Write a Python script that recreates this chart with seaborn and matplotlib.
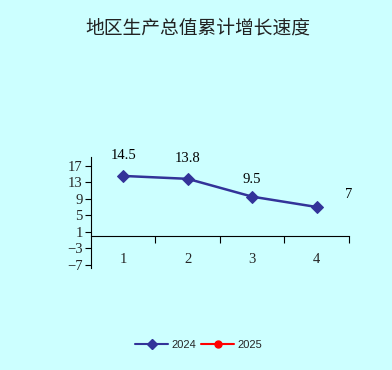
import pandas as pd
import matplotlib.pyplot as plt
import seaborn as sns
from matplotlib.lines import Line2D

quarters = [1, 2, 3, 4]
growth_2024 = [14.5, 13.8, 9.5, 7]
growth_2025 = []
y_ticks = [17, 13, 9, 5, 1, -3, -7]

BG = "#CCFFFF"
BLUE = "#333399"

sns.set_theme(style="white")
plt.rcParams["font.family"] = ["Liberation Serif", "Noto Sans CJK SC"]

df = pd.DataFrame({"quarter": quarters, "growth": growth_2024})

fig = plt.figure(figsize=(3.92, 3.70), dpi=100, facecolor=BG)
ax = fig.add_axes([0.232, 0.276, 0.658, 0.300])
ax.set_facecolor(BG)

sns.lineplot(
    data=df,
    x="quarter",
    y="growth",
    color=BLUE,
    marker="D",
    markersize=6,
    markeredgecolor=BLUE,
    linewidth=1.8,
    ax=ax
)

# data labels (Excel style, above points)
offsets = [(0, 10), (0, 10), (0, 8), (23, 4)]
for x, y, off in zip(quarters, growth_2024, offsets):
    ax.annotate(
        f"{y:g}",
        (x, y),
        xytext=off,
        textcoords="offset points",
        ha="center",
        va="bottom",
        fontsize=10.5,
        color="black"
    )

ax.set_xlim(0.5, 4.5)
ax.set_ylim(-7.7, 19.1)

for side in ["top", "right"]:
    ax.spines[side].set_visible(False)
ax.spines["bottom"].set_position(("data", 0))
ax.spines["left"].set_color("black")
ax.spines["bottom"].set_color("black")
ax.spines["left"].set_linewidth(0.8)
ax.spines["bottom"].set_linewidth(0.8)

ax.set_yticks(y_ticks)
ax.set_yticklabels([str(t).replace("-", "\u2212") for t in y_ticks], fontsize=10.5)
ax.set_xticks(quarters)
ax.set_xticklabels([str(q) for q in quarters], fontsize=10.5)
ax.set_xticks([1.5, 2.5, 3.5, 4.5], minor=True)
ax.tick_params(axis="x", which="major", length=0, pad=12)
ax.tick_params(axis="x", which="minor", length=5, width=0.8, direction="out", color="black", bottom=True)
ax.tick_params(axis="y", length=4, width=0.8, direction="out", color="black", left=True, pad=2)
ax.set_xlabel("")
ax.set_ylabel("")

fig.text(0.505, 0.924, "地区生产总值累计增长速度", ha="center", va="center",
         fontsize=13.5, family=["Noto Sans CJK SC"], color="#222222")

handles = [
    Line2D([], [], color=BLUE, marker="D", markersize=5, linewidth=1.5),
    Line2D([], [], color="red", marker="o", markersize=5, linewidth=1.5),
]
fig.legend(
    handles,
    ["2024", "2025"],
    loc="center",
    bbox_to_anchor=(0.507, 0.068),
    ncol=2,
    frameon=False,
    prop={"family": "Liberation Sans", "size": 8},
    handlelength=3,
    columnspacing=0.4,
    handletextpad=0.3
)

plt.savefig("out.png", dpi=100, facecolor=BG)
plt.close()
